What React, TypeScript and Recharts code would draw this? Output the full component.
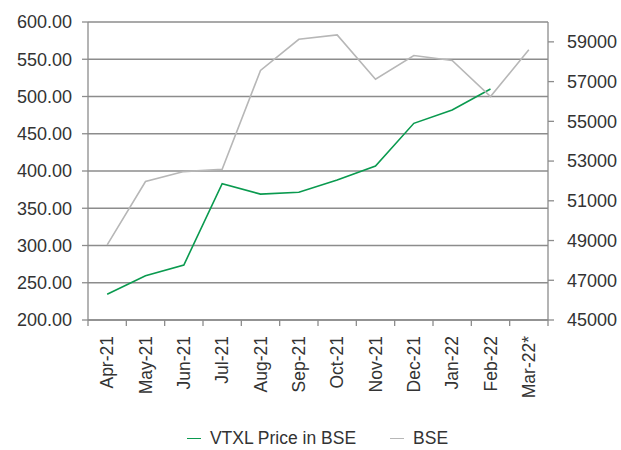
import { LineChart, Line, XAxis, YAxis, CartesianGrid, Legend } from "recharts";

const months = [
  "Apr-21",
  "May-21",
  "Jun-21",
  "Jul-21",
  "Aug-21",
  "Sep-21",
  "Oct-21",
  "Nov-21",
  "Dec-21",
  "Jan-22",
  "Feb-22",
  "Mar-22*",
];

// VTXL share price (left axis), no value for Mar-22*
const vtxlPrice = [234.5, 259.5, 273.8, 382.9, 369.0, 371.4, 388.0, 406.7, 464.0, 481.9, 510.0, null];

// BSE Sensex (right axis)
const bseIndex = [48780, 51970, 52470, 52590, 57560, 59130, 59350, 57120, 58310, 58060, 56250, 58600];

const priceTicks = [200, 250, 300, 350, 400, 450, 500, 550, 600];
const bseTicks = [45000, 47000, 49000, 51000, 53000, 55000, 57000, 59000];

const seriesNames = ["VTXL Price in BSE", "BSE"];

const FONT = "'Liberation Sans', Arial, sans-serif";
const TEXT = "#333333";
const GRID = "#8c8c8c";
const GREEN = "#0a9a4f";
const GREY = "#b7b7b7";

const chartData = months.map((month, i) => ({
  month,
  vtxl: vtxlPrice[i],
  bse: bseIndex[i],
}));

// month label rotated, with tick marks between categories
function MonthTick(props: any) {
  const { x, y, payload, width, visibleTicksCount, index } = props;
  const half = width && visibleTicksCount ? width / visibleTicksCount / 2 : 19;
  const ly = y + 10;
  return (
    <g>
      <line x1={x - half} x2={x - half} y1={y - 6} y2={y} stroke={GRID} strokeWidth={1.3} />
      {index === visibleTicksCount - 1 && (
        <line x1={x + half} x2={x + half} y1={y - 6} y2={y} stroke={GRID} strokeWidth={1.3} />
      )}
      <text
        x={x}
        y={ly}
        transform={`rotate(-90 ${x} ${ly})`}
        textAnchor="end"
        dominantBaseline="central"
        fill={TEXT}
        fontSize={17.5}
        fontFamily={FONT}
      >
        {payload.value}
      </text>
    </g>
  );
}

function ChartLegend(props: any) {
  const items = [...(props.payload || [])].sort(
    (a: any, b: any) => seriesNames.indexOf(a.value) - seriesNames.indexOf(b.value)
  );
  return (
    <div
      style={{
        display: "flex",
        justifyContent: "center",
        gap: 34,
        fontFamily: FONT,
        fontSize: 17.5,
        color: TEXT,
        paddingLeft: 14,
        paddingTop: 8,
      }}
    >
      {items.map((entry: any) => (
        <span key={entry.value} style={{ display: "flex", alignItems: "center" }}>
          <span
            style={{
              display: "inline-block",
              width: 14,
              borderTop: `1.5px solid ${entry.color}`,
              marginRight: 9,
            }}
          />
          {entry.value}
        </span>
      ))}
    </div>
  );
}

export default function App() {
  return (
    <div style={{ position: "absolute", left: 0, top: 0, background: "#fff" }}>
      <LineChart
        width={621}
        height={450}
        data={chartData}
        margin={{ top: 22, right: 0, bottom: 0, left: 0 }}
      >
        <CartesianGrid
          yAxisId="price"
          vertical={false}
          stroke={GRID}
          strokeWidth={1.3}
        />
        <XAxis
          dataKey="month"
          scale="band"
          interval={0}
          height={100}
          tickLine={false}
          tickSize={6}
          tickMargin={0}
          axisLine={{ stroke: GRID, strokeWidth: 1.3 }}
          tick={<MonthTick />}
        />
        <YAxis
          yAxisId="price"
          width={88}
          domain={[200, 600]}
          ticks={priceTicks}
          interval={0}
          tickFormatter={(v: number) => v.toFixed(2)}
          tickSize={6}
          tickMargin={10}
          tickLine={{ stroke: GRID, strokeWidth: 1.3 }}
          axisLine={{ stroke: GRID, strokeWidth: 1.3 }}
          tick={{ fill: TEXT, fontSize: 18, fontFamily: FONT }}
        />
        <YAxis
          yAxisId="bse"
          orientation="right"
          width={73}
          domain={[45000, 60000]}
          ticks={bseTicks}
          interval={0}
          tickSize={6}
          tickMargin={13}
          tickLine={{ stroke: GRID, strokeWidth: 1.3 }}
          axisLine={{ stroke: GRID, strokeWidth: 1.3 }}
          tick={{ fill: TEXT, fontSize: 18, fontFamily: FONT }}
        />
        <Legend
          verticalAlign="bottom"
          height={30}
          content={<ChartLegend />}
        />
        <Line
          yAxisId="price"
          dataKey="vtxl"
          name="VTXL Price in BSE"
          stroke={GREEN}
          strokeWidth={1.6}
          dot={false}
          activeDot={false}
          isAnimationActive={false}
        />
        <Line
          yAxisId="bse"
          dataKey="bse"
          name="BSE"
          stroke={GREY}
          strokeWidth={1.6}
          dot={false}
          activeDot={false}
          isAnimationActive={false}
        />
      </LineChart>
    </div>
  );
}
